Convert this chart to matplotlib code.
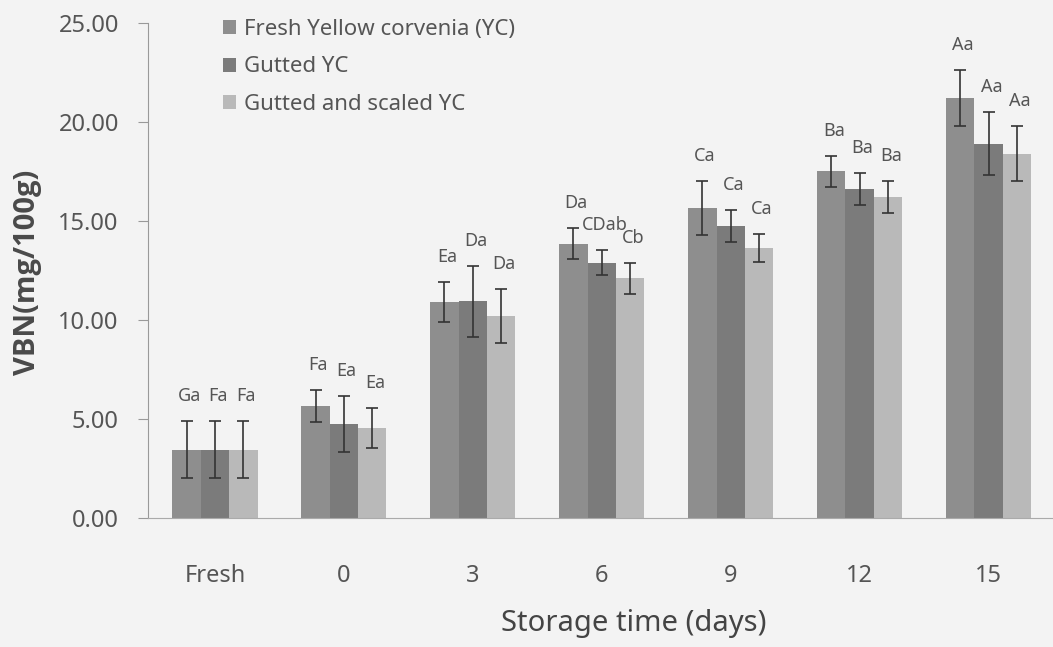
import numpy as np
import matplotlib.pyplot as plt

plt.rcParams['font.family'] = ['Noto Sans', 'DejaVu Sans']

# data
days = ['Fresh', '0', '3', '6', '9', '12', '15']
series_names = ['Fresh Yellow corvenia (YC)', 'Gutted YC', 'Gutted and scaled YC']

fresh_yc = [3.45, 5.66, 10.90, 13.85, 15.66, 17.50, 21.20]
gutted_yc = [3.45, 4.75, 10.95, 12.90, 14.75, 16.60, 18.90]
scaled_yc = [3.45, 4.55, 10.20, 12.10, 13.65, 16.20, 18.40]

fresh_err = [1.45, 0.80, 1.00, 0.78, 1.35, 0.80, 1.40]
gutted_err = [1.45, 1.40, 1.80, 0.65, 0.80, 0.80, 1.60]
scaled_err = [1.45, 1.00, 1.35, 0.80, 0.70, 0.80, 1.40]

fresh_lbl = ['Ga', 'Fa', 'Ea', 'Da', 'Ca', 'Ba', 'Aa']
gutted_lbl = ['Fa', 'Ea', 'Da', 'CDab', 'Ca', 'Ba', 'Aa']
scaled_lbl = ['Fa', 'Ea', 'Da', 'Cb', 'Ca', 'Ba', 'Aa']

colors = ['#8e8e8e', '#7b7b7b', '#b9b9b9']

fig = plt.figure(figsize=(10.53, 6.47), dpi=100, facecolor='#f3f3f3')
ax = fig.add_axes([0.1405, 0.1994, 0.8595, 0.7651])
ax.set_facecolor('#f3f3f3')

x = np.arange(len(days))
w = 0.22
txt_col = '#555555'

groups = [(fresh_yc, fresh_err, fresh_lbl), (gutted_yc, gutted_err, gutted_lbl),
          (scaled_yc, scaled_err, scaled_lbl)]
for i, (vals, errs, lbls) in enumerate(groups):
    pos = x + (i - 1) * w
    ax.bar(pos, vals, w, color=colors[i], label=series_names[i], zorder=2)
    ax.errorbar(pos, vals, yerr=errs, fmt='none', ecolor='#333333',
                elinewidth=1.2, capsize=4, capthick=1.2, zorder=3)
    for p, v, e, t in zip(pos, vals, errs, lbls):
        ax.annotate(t, (p, v + e), xytext=(2, 18), textcoords='offset points',
                    ha='center', va='center', fontsize=13, color=txt_col)

ax.set_xlim(-0.52, 6.5)
ax.set_ylim(0, 25)
ax.set_yticks(np.arange(0, 26, 5))
ax.set_yticklabels(['%.2f' % v for v in np.arange(0, 26, 5)])
ax.set_xticks(x)
ax.set_xticklabels(days)

for s in ['top', 'right']:
    ax.spines[s].set_visible(False)
ax.spines['left'].set_color('#999999')
ax.spines['bottom'].set_color('#aaaaaa')
ax.spines['bottom'].set_linestyle((0, (1, 1)))
ax.tick_params(axis='y', length=7, color='#999999', labelsize=17,
               labelcolor=txt_col, pad=14)
ax.tick_params(axis='x', length=0, labelsize=17, labelcolor=txt_col, pad=33)

ax.set_ylabel('VBN(mg/100g)', fontsize=21, fontweight='bold', color='#4a4a4a',
              va='center', family=['Open Sans', 'DejaVu Sans'])
ax.yaxis.set_label_coords(-0.1326, 0.497)
ax.set_xlabel('Storage time (days)', fontsize=21, color='#444444', va='center')
ax.xaxis.set_label_coords(0.537, -0.214)

ax.legend(loc='upper left', bbox_to_anchor=(0.083, 1.008), frameon=False,
          fontsize=16, handlelength=0.6, handleheight=0.6, handletextpad=0.35,
          labelspacing=0.74, borderaxespad=0, borderpad=0, labelcolor=txt_col)

fig.savefig('out.png', dpi=100, facecolor=fig.get_facecolor())
